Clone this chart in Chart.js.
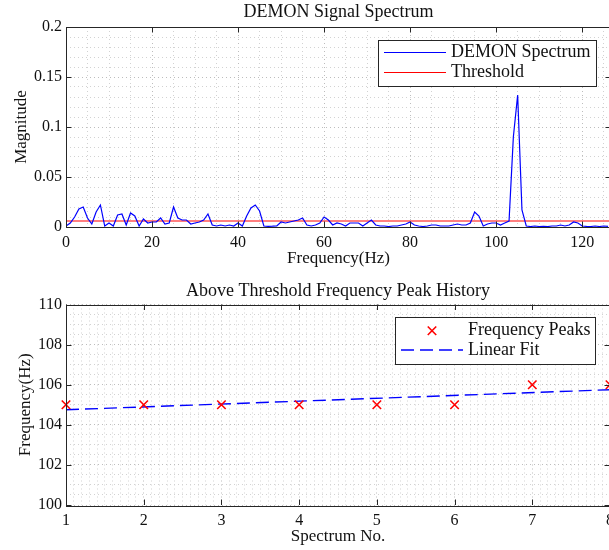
<!DOCTYPE html>
<html>
<head>
<meta charset="utf-8">
<title>DEMON Signal Spectrum</title>
<script src="https://cdn.jsdelivr.net/npm/chart.js@4.4.1/dist/chart.umd.min.js"></script>
<style>
  html, body { margin: 0; padding: 0; background: #fff; overflow: hidden; }
  #wrap { position: relative; width: 609px; height: 550px; overflow: hidden; }
  canvas { position: absolute; left: 0; }
  #spectrumChart { top: 0; }
  #peakChart { top: 275px; }
</style>
</head>
<body>
<div id="wrap">
  <canvas id="spectrumChart" width="620" height="275"></canvas>
  <canvas id="peakChart" width="620" height="275"></canvas>
</div>
<script>
// DEMON spectrum, one bin per Hz
const frequencies = [
  0, 1, 2, 3, 4, 5, 6, 7, 8, 9, 10, 11, 12, 13, 14, 15, 16, 17, 18, 19,
  20, 21, 22, 23, 24, 25, 26, 27, 28, 29, 30, 31, 32, 33, 34, 35, 36, 37, 38, 39,
  40, 41, 42, 43, 44, 45, 46, 47, 48, 49, 50, 51, 52, 53, 54, 55, 56, 57, 58, 59,
  60, 61, 62, 63, 64, 65, 66, 67, 68, 69, 70, 71, 72, 73, 74, 75, 76, 77, 78, 79,
  80, 81, 82, 83, 84, 85, 86, 87, 88, 89, 90, 91, 92, 93, 94, 95, 96, 97, 98, 99,
  100, 101, 102, 103, 104, 105, 106, 107, 108, 109, 110, 111, 112, 113, 114, 115, 116, 117, 118, 119,
  120, 121, 122, 123, 124, 125, 126
];
const magnitudes = [
  0.001, 0.004, 0.010, 0.018, 0.020, 0.009, 0.003, 0.015, 0.022, 0.001,
  0.004, 0.001, 0.012, 0.013, 0.002, 0.014, 0.011, 0.001, 0.008, 0.004,
  0.005, 0.005, 0.009, 0.003, 0.004, 0.020, 0.009, 0.007, 0.007, 0.003,
  0.004, 0.005, 0.007, 0.013, 0.002, 0.001, 0.002, 0.001, 0.002, 0.001,
  0.004, 0.001, 0.011, 0.019, 0.022, 0.016, 0.001, 0.0007, 0.0008, 0.001,
  0.005, 0.004, 0.005, 0.006, 0.007, 0.009, 0.002, 0.001, 0.002, 0.004,
  0.010, 0.007, 0.002, 0.004, 0.003, 0.001, 0.004, 0.004, 0.004, 0.001,
  0.004, 0.007, 0.002, 0.001, 0.001, 0.0005, 0.001, 0.001, 0.002, 0.003,
  0.005, 0.002, 0.001, 0.0005, 0.001, 0.002, 0.002, 0.001, 0.001, 0.001,
  0.002, 0.003, 0.002, 0.002, 0.004, 0.015, 0.011, 0.001, 0.003, 0.004,
  0.004, 0.002, 0.004, 0.006, 0.090, 0.132, 0.017, 0.001, 0.0005, 0.001,
  0.0005, 0.0007, 0.0005, 0.001, 0.001, 0.002, 0.001, 0.002, 0.005, 0.004,
  0.001, 0.0007, 0.0005, 0.001, 0.0005, 0.001, 0.0007
];
const threshold = 0.006;

// peak history
const spectrumNo = [1, 2, 3, 4, 5, 6, 7, 8];
const peakFreqs = [105, 105, 105, 105, 105, 105, 106, 106];
const fitX = [1, 8];
const fitY = [104.75, 105.75];

// tick labels
const specXTicks = [0, 20, 40, 60, 80, 100, 120];
const specYTicks = [0, 0.05, 0.1, 0.15, 0.2];
const peakXTicks = [1, 2, 3, 4, 5, 6, 7, 8];
const peakYTicks = [100, 102, 104, 106, 108, 110];

const specXMax = 126.7;
const serif = "'Liberation Serif', 'DejaVu Serif', serif";
const ink = '#262626';
const tickFont = { family: serif, size: 16 };
const labelFont = { family: serif, size: 17, weight: 'normal' };
const titleFont = { family: serif, size: 18, weight: 'normal' };
const legendFont = '18px ' + serif;

// evenly spaced minor tick values, built from integer steps to avoid float drift
function minorTicks(start, end, step, scale) {
  const out = [];
  const n = Math.round((end - start) / step);
  for (let i = 0; i <= n; i++) {
    out.push(Math.round((start + i * step) * scale) / scale);
  }
  return out.map(v => ({ value: v }));
}

function gridColor(majors) {
  return ctx => (ctx.tick && majors.includes(ctx.tick.value)) ? '#bdbdbd' : '#d2d2d2';
}

// box around the axes with inward tick marks on all four sides
const axisFrame = {
  id: 'axisFrame',
  afterDatasetsDraw(chart, args, opts) {
    const { ctx, chartArea: a, scales: { x, y } } = chart;
    const len = opts.len;
    ctx.save();
    ctx.strokeStyle = ink;
    ctx.lineWidth = 1;
    ctx.beginPath();
    opts.xMajor.forEach(v => {
      const px = Math.round(x.getPixelForValue(v)) + 0.5;
      ctx.moveTo(px, a.bottom); ctx.lineTo(px, a.bottom - len);
      ctx.moveTo(px, a.top); ctx.lineTo(px, a.top + len);
    });
    opts.yMajor.forEach(v => {
      const py = Math.round(y.getPixelForValue(v)) + 0.5;
      ctx.moveTo(a.left, py); ctx.lineTo(a.left + len, py);
      ctx.moveTo(a.right, py); ctx.lineTo(a.right - len, py);
    });
    ctx.stroke();
    ctx.strokeRect(Math.round(a.left) + 0.5, Math.round(a.top) + 0.5,
      Math.round(a.right - a.left), Math.round(a.bottom - a.top));
    ctx.restore();
  }
};

// framed legend placed inside the axes
const boxLegend = {
  id: 'boxLegend',
  afterDraw(chart, args, opts) {
    const { ctx } = chart;
    const b = opts.box;
    ctx.save();
    ctx.fillStyle = '#fff';
    ctx.fillRect(b.left, b.top, b.right - b.left, b.bottom - b.top);
    ctx.strokeStyle = ink;
    ctx.lineWidth = 1;
    ctx.strokeRect(b.left + 0.5, b.top + 0.5, b.right - b.left, b.bottom - b.top);
    chart.data.datasets.forEach((ds, i) => {
      const ry = opts.rows[i];
      ctx.strokeStyle = ds.borderColor;
      ctx.lineWidth = ds.borderWidth;
      if (ds.showLine === false) {
        const cx = (opts.sample[0] + opts.sample[1]) / 2;
        const r = ds.pointRadius * Math.SQRT1_2;
        ctx.setLineDash([]);
        ctx.beginPath();
        ctx.moveTo(cx - r, ry - r); ctx.lineTo(cx + r, ry + r);
        ctx.moveTo(cx - r, ry + r); ctx.lineTo(cx + r, ry - r);
        ctx.stroke();
      } else {
        ctx.setLineDash(ds.borderDash || []);
        ctx.beginPath();
        ctx.moveTo(opts.sample[0], ry);
        ctx.lineTo(opts.sample[1], ry);
        ctx.stroke();
      }
      ctx.setLineDash([]);
      ctx.fillStyle = '#111';
      ctx.font = legendFont;
      ctx.textBaseline = 'middle';
      ctx.textAlign = 'left';
      ctx.fillText(ds.label, opts.textX, ry);
    });
    ctx.restore();
  }
};

Chart.register(axisFrame, boxLegend);

function axisCommon(majors, fmt) {
  return {
    type: 'linear',
    ticks: {
      autoSkip: false, maxRotation: 0, color: '#111', font: tickFont,
      callback: v => majors.includes(v) ? fmt(v) : ''
    },
    grid: { color: gridColor(majors), lineWidth: 1, drawTicks: false },
    border: { display: false, dash: [1, 3] }
  };
}

// top: spectrum with threshold
const specX = axisCommon(specXTicks, v => String(v));
Object.assign(specX, {
  min: 0, max: specXMax,
  afterBuildTicks: s => { s.ticks = minorTicks(0, 125, 5, 1); },
  afterFit: s => { s.height = 48; },
  title: { display: true, text: 'Frequency(Hz)', color: '#111', font: labelFont, padding: { top: 0, bottom: 6 } }
});
specX.ticks.padding = 6;

const specY = axisCommon(specYTicks, v => String(v));
Object.assign(specY, {
  min: 0, max: 0.2,
  afterBuildTicks: s => { s.ticks = minorTicks(0, 0.2, 0.01, 100); },
  afterFit: s => { s.width = 66; },
  title: { display: true, text: 'Magnitude', color: '#111', font: labelFont, padding: { top: 11, bottom: 0 } }
});
specY.ticks.padding = 4;

new Chart(document.getElementById('spectrumChart'), {
  type: 'line',
  data: {
    datasets: [
      {
        label: 'DEMON Spectrum',
        data: frequencies.map((f, i) => ({ x: f, y: magnitudes[i] })),
        borderColor: '#0000ff', borderWidth: 1.2, pointRadius: 0, tension: 0
      },
      {
        label: 'Threshold',
        data: [{ x: 0, y: threshold }, { x: specXMax, y: threshold }],
        borderColor: '#ff0000', borderWidth: 1.2, pointRadius: 0
      }
    ]
  },
  options: {
    responsive: false,
    animation: false,
    devicePixelRatio: 1,
    layout: { padding: { top: 0, right: 9, bottom: 0, left: 0 } },
    scales: { x: specX, y: specY },
    plugins: {
      legend: { display: false },
      tooltip: { enabled: false },
      title: {
        display: true, fullSize: false, text: 'DEMON Signal Spectrum', color: '#111', font: titleFont,
        padding: { top: 1.4, bottom: 4 }
      },
      axisFrame: { xMajor: specXTicks, yMajor: specYTicks, len: 5.5 },
      boxLegend: {
        box: { left: 378, top: 40, right: 596, bottom: 86 },
        rows: [52.5, 72.5], sample: [384, 446], textX: 451
      }
    }
  }
});

// bottom: detected peak per spectrum with linear fit
const peakX = axisCommon(peakXTicks, v => String(v));
Object.assign(peakX, {
  min: 1, max: 8,
  afterBuildTicks: s => { s.ticks = minorTicks(1, 8, 0.1, 10); },
  afterFit: s => { s.height = 45; },
  title: { display: true, text: 'Spectrum No.', color: '#111', font: labelFont, padding: { top: 0, bottom: 3 } }
});
peakX.ticks.padding = 6;

const peakY = axisCommon(peakYTicks, v => String(v));
Object.assign(peakY, {
  min: 100, max: 110,
  afterBuildTicks: s => { s.ticks = minorTicks(100, 110, 0.5, 10); },
  afterFit: s => { s.width = 66; },
  title: { display: true, text: 'Frequency(Hz)', color: '#111', font: labelFont, padding: { top: 15, bottom: 0 } }
});
peakY.ticks.padding = 4;

new Chart(document.getElementById('peakChart'), {
  type: 'scatter',
  data: {
    datasets: [
      {
        label: 'Frequency Peaks',
        data: spectrumNo.map((n, i) => ({ x: n, y: peakFreqs[i] })),
        showLine: false, pointStyle: 'crossRot', pointRadius: 6,
        borderColor: '#ff0000', backgroundColor: '#ff0000', borderWidth: 1.6,
        clip: false
      },
      {
        label: 'Linear Fit',
        data: fitX.map((n, i) => ({ x: n, y: fitY[i] })),
        showLine: true, pointRadius: 0, borderColor: '#0000ff', borderWidth: 1.4,
        borderDash: [13, 6]
      }
    ]
  },
  options: {
    responsive: false,
    animation: false,
    devicePixelRatio: 1,
    layout: { padding: { top: 0, right: 9, bottom: 0, left: 0 } },
    scales: { x: peakX, y: peakY },
    plugins: {
      legend: { display: false },
      tooltip: { enabled: false },
      title: {
        display: true, fullSize: false, text: 'Above Threshold Frequency Peak History', color: '#111', font: titleFont,
        padding: { top: 5, bottom: 2.9 }
      },
      axisFrame: { xMajor: peakXTicks, yMajor: peakYTicks, len: 5.5 },
      boxLegend: {
        box: { left: 395, top: 42, right: 595, bottom: 89 },
        rows: [55.7, 75], sample: [401, 463], textX: 468
      }
    }
  }
});
</script>
</body>
</html>
